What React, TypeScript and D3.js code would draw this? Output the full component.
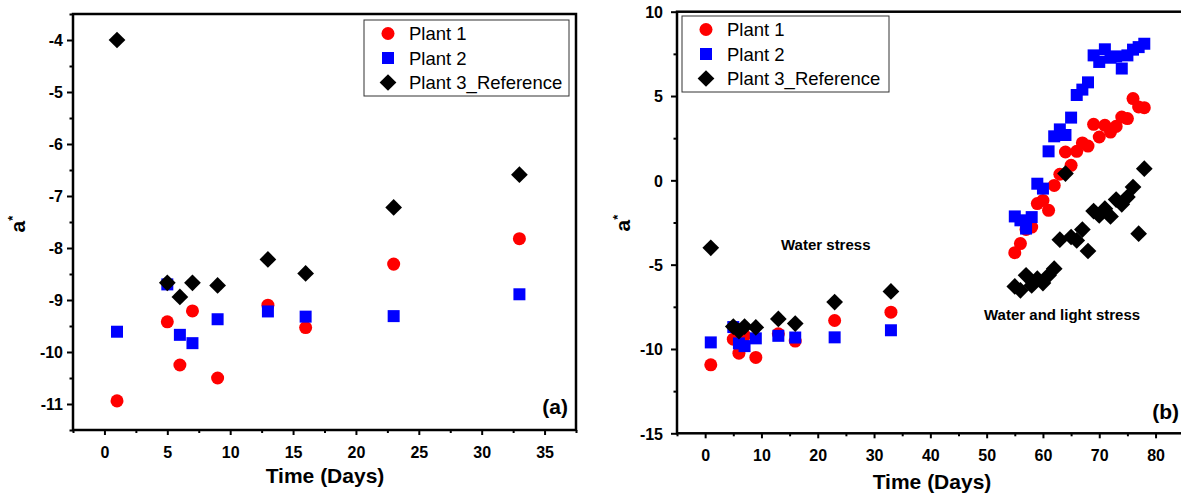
import React, { useEffect, useRef } from 'react';
import * as d3 from 'd3';

// days measured during the water-stress period
const earlyDays = [1, 5, 6, 7, 9, 13, 16, 23, 33];
const plant1Early = [-10.94, -9.42, -10.25, -9.21, -10.5, -9.1, -9.53, -8.31, -7.82];
const plant2Early = [-9.61, -8.7, -9.67, -9.83, -9.37, -9.22, -9.32, -9.31, -8.89];
const plant3Early = [-4.0, -8.67, -8.94, -8.67, -8.72, -8.22, -8.49, -7.22, -6.59];

// days measured during the water and light stress period
const lateDays = [55, 56, 57, 58, 59, 60, 61, 62, 63, 64, 65, 66, 67, 68, 69, 70, 71, 72, 73, 74, 75, 76, 77, 78];
const plant1Late = [-4.29, -3.75, -2.91, -2.77, -1.38, -1.19, -1.78, -0.3, 0.36, 1.68, 0.89, 1.72, 2.22, 2.03, 3.32, 2.57, 3.26, 2.86, 3.2, 3.75, 3.66, 4.85, 4.35, 4.31];
const plant2Late = [-2.14, -2.37, -2.86, -2.18, -0.2, -0.49, 1.72, 2.61, 3.02, 2.69, 3.72, 5.06, 5.38, 5.81, 7.41, 7.02, 7.77, 7.27, 7.35, 6.63, 7.41, 7.75, 7.9, 8.1];
const plant3Late = [-6.29, -6.52, -5.63, -6.23, -5.83, -6.09, -5.63, -5.24, -3.52, 0.4, -3.36, -3.56, -2.92, -4.19, -1.82, -2.08, -1.68, -2.14, -1.14, -1.42, -0.99, -0.4, -3.16, 0.69];

const seriesNames = ['Plant 1', 'Plant 2', 'Plant 3_Reference'];
const seriesColors = ['#ff0000', '#0000ff', '#000000'];

const leftYTicks = [-11, -10, -9, -8, -7, -6, -5, -4];
const leftYMinor = [-11.5, -10.5, -9.5, -8.5, -7.5, -6.5, -5.5, -4.5, -3.5];
const leftXTicks = [0, 5, 10, 15, 20, 25, 30, 35];
const leftXMinor = [-2.5, 2.5, 7.5, 12.5, 17.5, 22.5, 27.5, 32.5, 37.5];

const rightYTicks = [-15, -10, -5, 0, 5, 10];
const rightYMinor = [-12.5, -7.5, -2.5, 2.5, 7.5];
const rightXTicks = [0, 10, 20, 30, 40, 50, 60, 70, 80];
const rightXMinor = [-5, 5, 15, 25, 35, 45, 55, 65, 75, 85];

const FONT = '"Liberation Sans", Arial, Helvetica, sans-serif';

const markerPath = (i) => {
  if (i === 0) return d3.symbol().type(d3.symbolCircle).size(133)();
  if (i === 1) return d3.symbol().type(d3.symbolSquare).size(144)();
  return d3.symbol().type(d3.symbolSquare).size(140)(); // rotated later -> diamond
};
const markerRotate = (i) => (i === 2 ? ' rotate(45)' : '');

const drawPanel = (svg, o) => {
  const x = d3.scaleLinear().domain(o.xDomain).range([o.left, o.right]);
  const y = d3.scaleLinear().domain(o.yDomain).range([o.bottom, o.top]);
  const g = svg.append('g');

  // frame
  g.append('rect')
    .attr('x', o.left).attr('y', o.top)
    .attr('width', o.right - o.left).attr('height', o.bottom - o.top)
    .attr('fill', 'none').attr('stroke', '#000').attr('stroke-width', 2.5);

  const fmt = (d) => String(d);

  // y axis
  const ya = g.append('g').attr('transform', `translate(${o.left},0)`)
    .call(d3.axisLeft(y).tickValues(o.yTicks).tickSize(6).tickPadding(o.yPad).tickFormat(fmt));
  g.append('g').attr('transform', `translate(${o.left},0)`)
    .call(d3.axisLeft(y).tickValues(o.yMinor).tickSize(3.5).tickFormat(() => ''));

  // x axis
  g.append('g').attr('transform', `translate(0,${o.bottom})`)
    .call(d3.axisBottom(x).tickValues(o.xTicks).tickSize(5).tickPadding(o.xPad).tickFormat(fmt));
  g.append('g').attr('transform', `translate(0,${o.bottom})`)
    .call(d3.axisBottom(x).tickValues(o.xMinor).tickSize(3).tickFormat(() => ''));

  g.selectAll('.domain').remove();
  g.selectAll('.tick line').attr('stroke', '#000').attr('stroke-width', 2);
  g.selectAll('.tick text')
    .attr('fill', '#000')
    .style('font-family', FONT)
    .style('font-size', '16px')
    .style('font-weight', 'bold');
  ya.selectAll('.tick text').attr('dy', '0.36em');

  // points
  const days = o.days;
  o.series.forEach((vals, i) => {
    g.append('g').selectAll('path')
      .data(days.map((d, k) => [d, vals[k]]))
      .join('path')
      .attr('d', markerPath(i))
      .attr('transform', (d) => `translate(${x(d[0])},${y(d[1])})${markerRotate(i)}`)
      .attr('fill', seriesColors[i]);
  });

  // legend
  const lg = g.append('g');
  lg.append('rect')
    .attr('x', o.legend.x).attr('y', o.legend.y)
    .attr('width', o.legend.w).attr('height', o.legend.h)
    .attr('fill', '#fff').attr('stroke', '#333').attr('stroke-width', 1);
  seriesNames.forEach((name, i) => {
    const cy = o.legend.y + 13.5 + i * 24.5;
    lg.append('path')
      .attr('d', markerPath(i))
      .attr('transform', `translate(${o.legend.x + 24},${cy})${markerRotate(i)}`)
      .attr('fill', seriesColors[i]);
    lg.append('text')
      .attr('x', o.legend.x + 45).attr('y', cy + 6.5)
      .style('font-family', FONT).style('font-size', '18.5px')
      .attr('fill', '#000')
      .text(name);
  });

  // axis titles
  g.append('text')
    .attr('x', (o.xTitle[0])).attr('y', o.xTitle[1])
    .attr('text-anchor', 'middle')
    .style('font-family', FONT).style('font-size', '21px').style('font-weight', 'bold')
    .text('Time (Days)');

  const yt = g.append('text')
    .attr('transform', `translate(${o.yTitle[0]},${o.yTitle[1]}) rotate(-90)`)
    .attr('text-anchor', 'middle')
    .style('font-family', FONT).style('font-size', '21px').style('font-weight', 'bold');
  yt.append('tspan').text('a');
  yt.append('tspan').attr('dy', -8).style('font-size', '13px').text('*');

  // panel tag
  g.append('text')
    .attr('x', o.tag[0]).attr('y', o.tag[1])
    .attr('text-anchor', 'end')
    .style('font-family', FONT).style('font-size', '21px').style('font-weight', 'bold')
    .text(o.tagText);

  return { x, y, g };
};

const App = () => {
  const svgRef = useRef(null);

  useEffect(() => {
    const svg = d3.select(svgRef.current);
    svg.selectAll('*').remove();

    drawPanel(svg, {
      xDomain: [-2.5, 37.5], yDomain: [-11.5, -3.5],
      left: 73, right: 576, top: 14, bottom: 430,
      yTicks: leftYTicks, yMinor: leftYMinor, xTicks: leftXTicks, xMinor: leftXMinor,
      yPad: 4, xPad: 12,
      days: earlyDays,
      series: [plant1Early, plant2Early, plant3Early],
      legend: { x: 364, y: 20, w: 205, h: 76 },
      xTitle: [325, 483], yTitle: [25, 224],
      tag: [568, 414], tagText: '(a)',
    });

    const right = drawPanel(svg, {
      xDomain: [-5, 85], yDomain: [-15, 10],
      left: 677, right: 1183.7, top: 11.7, bottom: 433.3,
      yTicks: rightYTicks, yMinor: rightYMinor, xTicks: rightXTicks, xMinor: rightXMinor,
      yPad: 8, xPad: 11,
      days: earlyDays.concat(lateDays),
      series: [plant1Early.concat(plant1Late), plant2Early.concat(plant2Late), plant3Early.concat(plant3Late)],
      legend: { x: 682, y: 16, w: 207, h: 76 },
      xTitle: [932, 489], yTitle: [630, 223],
      tag: [1179, 419], tagText: '(b)',
    });

    // stress period notes
    right.g.append('text')
      .attr('x', 781).attr('y', 250)
      .style('font-family', FONT).style('font-size', '15px').style('font-weight', 'bold')
      .text('Water stress');
    right.g.append('text')
      .attr('x', 984).attr('y', 320)
      .style('font-family', FONT).style('font-size', '15px').style('font-weight', 'bold')
      .text('Water and light stress');
  }, []);

  return (
    <svg
      ref={svgRef}
      width={1181}
      height={497}
      style={{ position: 'absolute', left: 0, top: 0, background: '#fff' }}
    />
  );
};

export default App;
